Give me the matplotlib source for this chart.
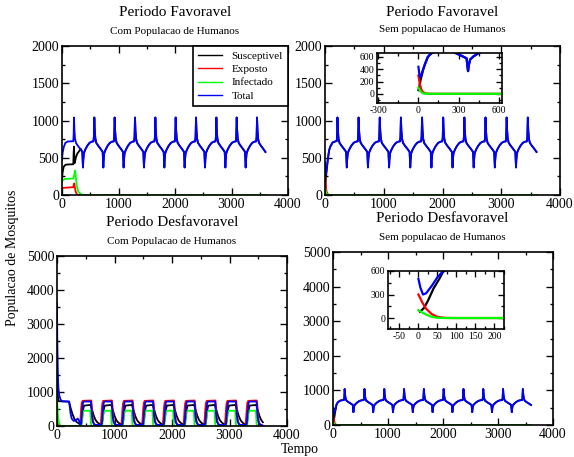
import numpy as np
import matplotlib
matplotlib.use("Agg")
from matplotlib import pyplot as plt
from matplotlib.ticker import MultipleLocator

plt.rcParams['font.family'] = ['Liberation Serif', 'DejaVu Serif']
plt.rcParams['axes.unicode_minus'] = False

PERIOD = 360
T_END = 3600

# yearly cycle of the total population (favourable case), offsets from the peak
cyc_dt = [0, 8, 18, 35, 70, 110, 148, 154, 159, 165, 175, 200, 235, 275, 315, 345, 352, 356]
cyc_tot = [1040, 870, 760, 700, 660, 620, 578, 470, 370, 470, 560, 610, 660, 700, 716, 720, 780, 900]
peak_t0 = 212

# --- Periodo Favoravel, com humanos: first months
tl_tot_t = [0, 10, 30, 60, 100, 150, 200, 207]
tl_tot_v = [470, 560, 640, 700, 718, 720, 722, 820]
tl_sus_t = [0, 10, 30, 60, 100, 200, 206, 212, 218, 226, 245, 270, 300, 330]
tl_sus_v = [180, 300, 380, 405, 410, 412, 560, 650, 520, 430, 500, 555, 585, 620]
tl_exp_t = [0, 20, 100, 200, 212, 218, 226, 240, 260, 290, T_END]
tl_exp_v = [90, 95, 100, 105, 150, 155, 110, 50, 12, 0, 0]
tl_inf_t = [0, 15, 50, 200, 215, 232, 242, 260, 290, 360, T_END]
tl_inf_v = [175, 200, 215, 222, 260, 330, 260, 130, 40, 0, 0]

# --- Periodo Favoravel, sem humanos
tr_tot_t = [0, 6, 12, 20, 35, 50, 70, 90, 130, 170, 200, 207]
tr_tot_v = [440, 330, 270, 300, 400, 490, 600, 650, 705, 718, 725, 820]
tr_sus_t = [0, 8, 16, 25, 35, 50]
tr_sus_v = [60, 130, 230, 300, 390, 490]
tr_exp_t = [0, 5, 10, 20, 30, 50, 80, T_END]
tr_exp_v = [300, 230, 160, 80, 35, 8, 0, 0]
tr_inf_t = [0, 5, 10, 20, 35, 60, T_END]
tr_inf_v = [100, 80, 60, 28, 6, 0, 0]

# --- Periodo Desfavoravel, com humanos: first months, then yearly outbreaks
bl_tot_t = [0, 5, 12, 25, 40, 60, 90, 210, 220, 235, 255, 290, 330, 360, 385]
bl_tot_v = [3600, 2500, 1600, 1100, 900, 780, 728, 720, 600, 380, 220, 150, 170, 220, 150]
bl_sus_t = [0, 5, 12, 25, 210, 225, 245, 270, 300, 340, 385]
bl_sus_v = [3000, 1800, 950, 730, 715, 600, 480, 350, 220, 120, 70]
bl_exp_t = [0, 5, 15, 30, 50, 385]
bl_exp_v = [350, 200, 80, 20, 0, 0]
bl_inf_t = [0, 8, 20, 35, 60, 80, 385]
bl_inf_v = [800, 550, 250, 80, 10, 0, 0]

out_t0 = 400
n_out = 9
out_dt_tot = [0, 20, 30, 42, 55, 70, 190, 198, 208, 222, 245, 280, 330, 355]
out_tot = [40, 60, 300, 560, 700, 720, 720, 560, 300, 120, 50, 30, 30, 40]
out_dt_sus = [0, 20, 35, 50, 70, 185, 200, 215, 240, 270, 300, 330, 355]
out_sus = [60, 80, 200, 450, 600, 620, 520, 450, 300, 180, 110, 70, 60]
out_dt_exp = [0, 10, 20, 30, 45, 195, 205, 215, 228, 245, 270, 320, 355]
out_exp = [40, 250, 520, 680, 740, 750, 600, 330, 150, 60, 20, 5, 20]
out_dt_inf = [0, 25, 35, 45, 60, 75, 180, 184, 190, 198, 220, 355]
out_inf = [0, 0, 150, 330, 430, 450, 450, 300, 80, 10, 0, 0]

# --- Periodo Desfavoravel, sem humanos
br_tot_t = [0, 5, 12, 20, 35, 50, 65, 90, 130, 170, 200, 207]
br_tot_v = [500, 390, 300, 315, 410, 520, 600, 660, 705, 718, 725, 820]
br_sus_t = [4, 15, 25, 40, 55, 65]
br_sus_v = [80, 130, 220, 380, 500, 590]
br_exp_t = [0, 10, 20, 35, 50, 70, 90, T_END]
br_exp_v = [300, 200, 120, 50, 15, 2, 0, 0]
br_inf_t = [0, 10, 20, 35, 50, 70, T_END]
br_inf_v = [100, 70, 45, 15, 3, 0, 0]


def repeat_cycle(start, dt, v, n):
    t_out, v_out = [], []
    for k in range(n):
        for d, y in zip(dt, v):
            t = start + k * PERIOD + d
            if t <= T_END:
                t_out.append(t)
                v_out.append(y)
    return t_out, v_out


def with_cycles(t0, v0, start, dt, v, n):
    tc, vc = repeat_cycle(start, dt, v, n)
    return np.array(t0 + tc), np.array(v0 + vc)


def follow(t0, v0, t_ref, v_ref):
    # susceptibles merge into the total once E and I vanish
    keep = t_ref > t0[-1]
    return np.concatenate([t0, t_ref[keep]]), np.concatenate([v0, v_ref[keep]])


tl_tot = with_cycles(tl_tot_t, tl_tot_v, peak_t0, cyc_dt, cyc_tot, 10)
tl_sus = follow(tl_sus_t, tl_sus_v, *tl_tot)
tr_tot = with_cycles(tr_tot_t, tr_tot_v, peak_t0, cyc_dt, cyc_tot, 10)
tr_sus = follow(tr_sus_t, tr_sus_v, *tr_tot)
br_tot = with_cycles(br_tot_t, br_tot_v, peak_t0, cyc_dt, cyc_tot, 10)
br_sus = follow(br_sus_t, br_sus_v, *br_tot)
bl_tot = with_cycles(bl_tot_t, bl_tot_v, out_t0, out_dt_tot, out_tot, n_out)
bl_sus = with_cycles(bl_sus_t, bl_sus_v, out_t0, out_dt_sus, out_sus, n_out)
bl_exp = with_cycles(bl_exp_t, bl_exp_v, out_t0, out_dt_exp, out_exp, n_out)
bl_inf = with_cycles(bl_inf_t, bl_inf_v, out_t0, out_dt_inf, out_inf, n_out)

W, H = 574, 457
fig = plt.figure(figsize=(W / 100, H / 100), dpi=100)


def box(l, r, t, b):
    return [l / W, 1 - b / H, (r - l) / W, (b - t) / H]


def style(ax, xmaj, xmin, ymaj, ymin, size=10, lw=1.2, tl=5):
    ax.xaxis.set_major_locator(MultipleLocator(xmaj))
    ax.xaxis.set_minor_locator(MultipleLocator(xmin))
    ax.yaxis.set_major_locator(MultipleLocator(ymaj))
    ax.yaxis.set_minor_locator(MultipleLocator(ymin))
    ax.tick_params(which='both', direction='in', top=True, right=True,
                   labelsize=size, width=lw * 0.8, pad=2)
    ax.tick_params(which='major', length=tl)
    ax.tick_params(which='minor', length=tl / 2)
    for s in ax.spines.values():
        s.set_linewidth(lw)


def draw(ax, sus, exp, inf, tot, lw=1.3):
    ax.plot(*sus, color='black', lw=lw, label='Susceptivel')
    ax.plot(*exp, color='red', lw=lw, label='Exposto')
    ax.plot(*inf, color='#00ff00', lw=lw, label='Infectado')
    ax.plot(*tot, color='blue', lw=lw, label='Total')


tl_exp = (np.array(tl_exp_t), np.array(tl_exp_v))
tl_inf = (np.array(tl_inf_t), np.array(tl_inf_v))
tr_exp = (np.array(tr_exp_t), np.array(tr_exp_v))
tr_inf = (np.array(tr_inf_t), np.array(tr_inf_v))
br_exp = (np.array(br_exp_t), np.array(br_exp_v))
br_inf = (np.array(br_inf_t), np.array(br_inf_v))

ax1 = fig.add_axes(box(62, 288, 46, 195))
draw(ax1, tl_sus, tl_exp, tl_inf, tl_tot)
ax1.set_xlim(0, 4000)
ax1.set_ylim(0, 2000)
style(ax1, 1000, 500, 500, 250)
leg = ax1.legend(loc='upper right', fontsize=8, borderaxespad=0, fancybox=False,
                 edgecolor='black', framealpha=1, handlelength=2.1, handletextpad=0.9,
                 labelspacing=0.32, borderpad=0.45)
leg.get_frame().set_linewidth(1.2)
for ln in leg.get_lines():
    ln.set_linewidth(1.0)

ax2 = fig.add_axes(box(325, 560, 46, 195))
draw(ax2, tr_sus, tr_exp, tr_inf, tr_tot)
ax2.set_xlim(0, 4000)
ax2.set_ylim(0, 2000)
style(ax2, 1000, 500, 500, 250)

ax2i = fig.add_axes(box(377, 502, 53, 103))
draw(ax2i, tr_sus, tr_exp, tr_inf, tr_tot, lw=1.6)
ax2i.set_xlim(-310, 625)
ax2i.set_ylim(-150, 665)
style(ax2i, 300, 150, 200, 100, size=7, lw=1.2, tl=4)

ax3 = fig.add_axes(box(57, 287, 256, 426))
draw(ax3, bl_sus, bl_exp, bl_inf, bl_tot)
ax3.set_xlim(0, 4000)
ax3.set_ylim(0, 5000)
style(ax3, 1000, 500, 1000, 500)

ax4 = fig.add_axes(box(333, 553, 252, 425))
draw(ax4, br_sus, br_exp, br_inf, br_tot)
ax4.set_xlim(0, 4000)
ax4.set_ylim(0, 5000)
style(ax4, 1000, 500, 1000, 500)

ax4i = fig.add_axes(box(388, 504, 271, 329))
draw(ax4i, br_sus, br_exp, br_inf, br_tot, lw=1.6)
ax4i.set_xlim(-80, 225)
ax4i.set_ylim(-140, 600)
style(ax4i, 50, 25, 300, 150, size=7, lw=1.2, tl=4)


def ftext(x, y, s, size, **kw):
    fig.text(x / W, 1 - y / H, s, fontsize=size, ha='center', va='center', **kw)


ftext(175, 13, 'Periodo Favoravel', 11)
ftext(175, 31, 'Com Populacao de Humanos', 8)
ftext(442, 13, 'Periodo Favoravel', 11)
ftext(442, 30, 'Sem populacao de Humanos', 8)
ftext(172, 223, 'Periodo Desfavoravel', 11)
ftext(172, 241, 'Com Populacao de Humanos', 8)
ftext(442, 218, 'Periodo Desfavoravel', 11)
ftext(442, 237, 'Sem populacao de Humanos', 8)
ftext(13, 258, 'Populacao de Mosquitos', 10, rotation=90)
ftext(300, 450, 'Tempo', 10)

fig.savefig('out.png', dpi=100, facecolor='white')
